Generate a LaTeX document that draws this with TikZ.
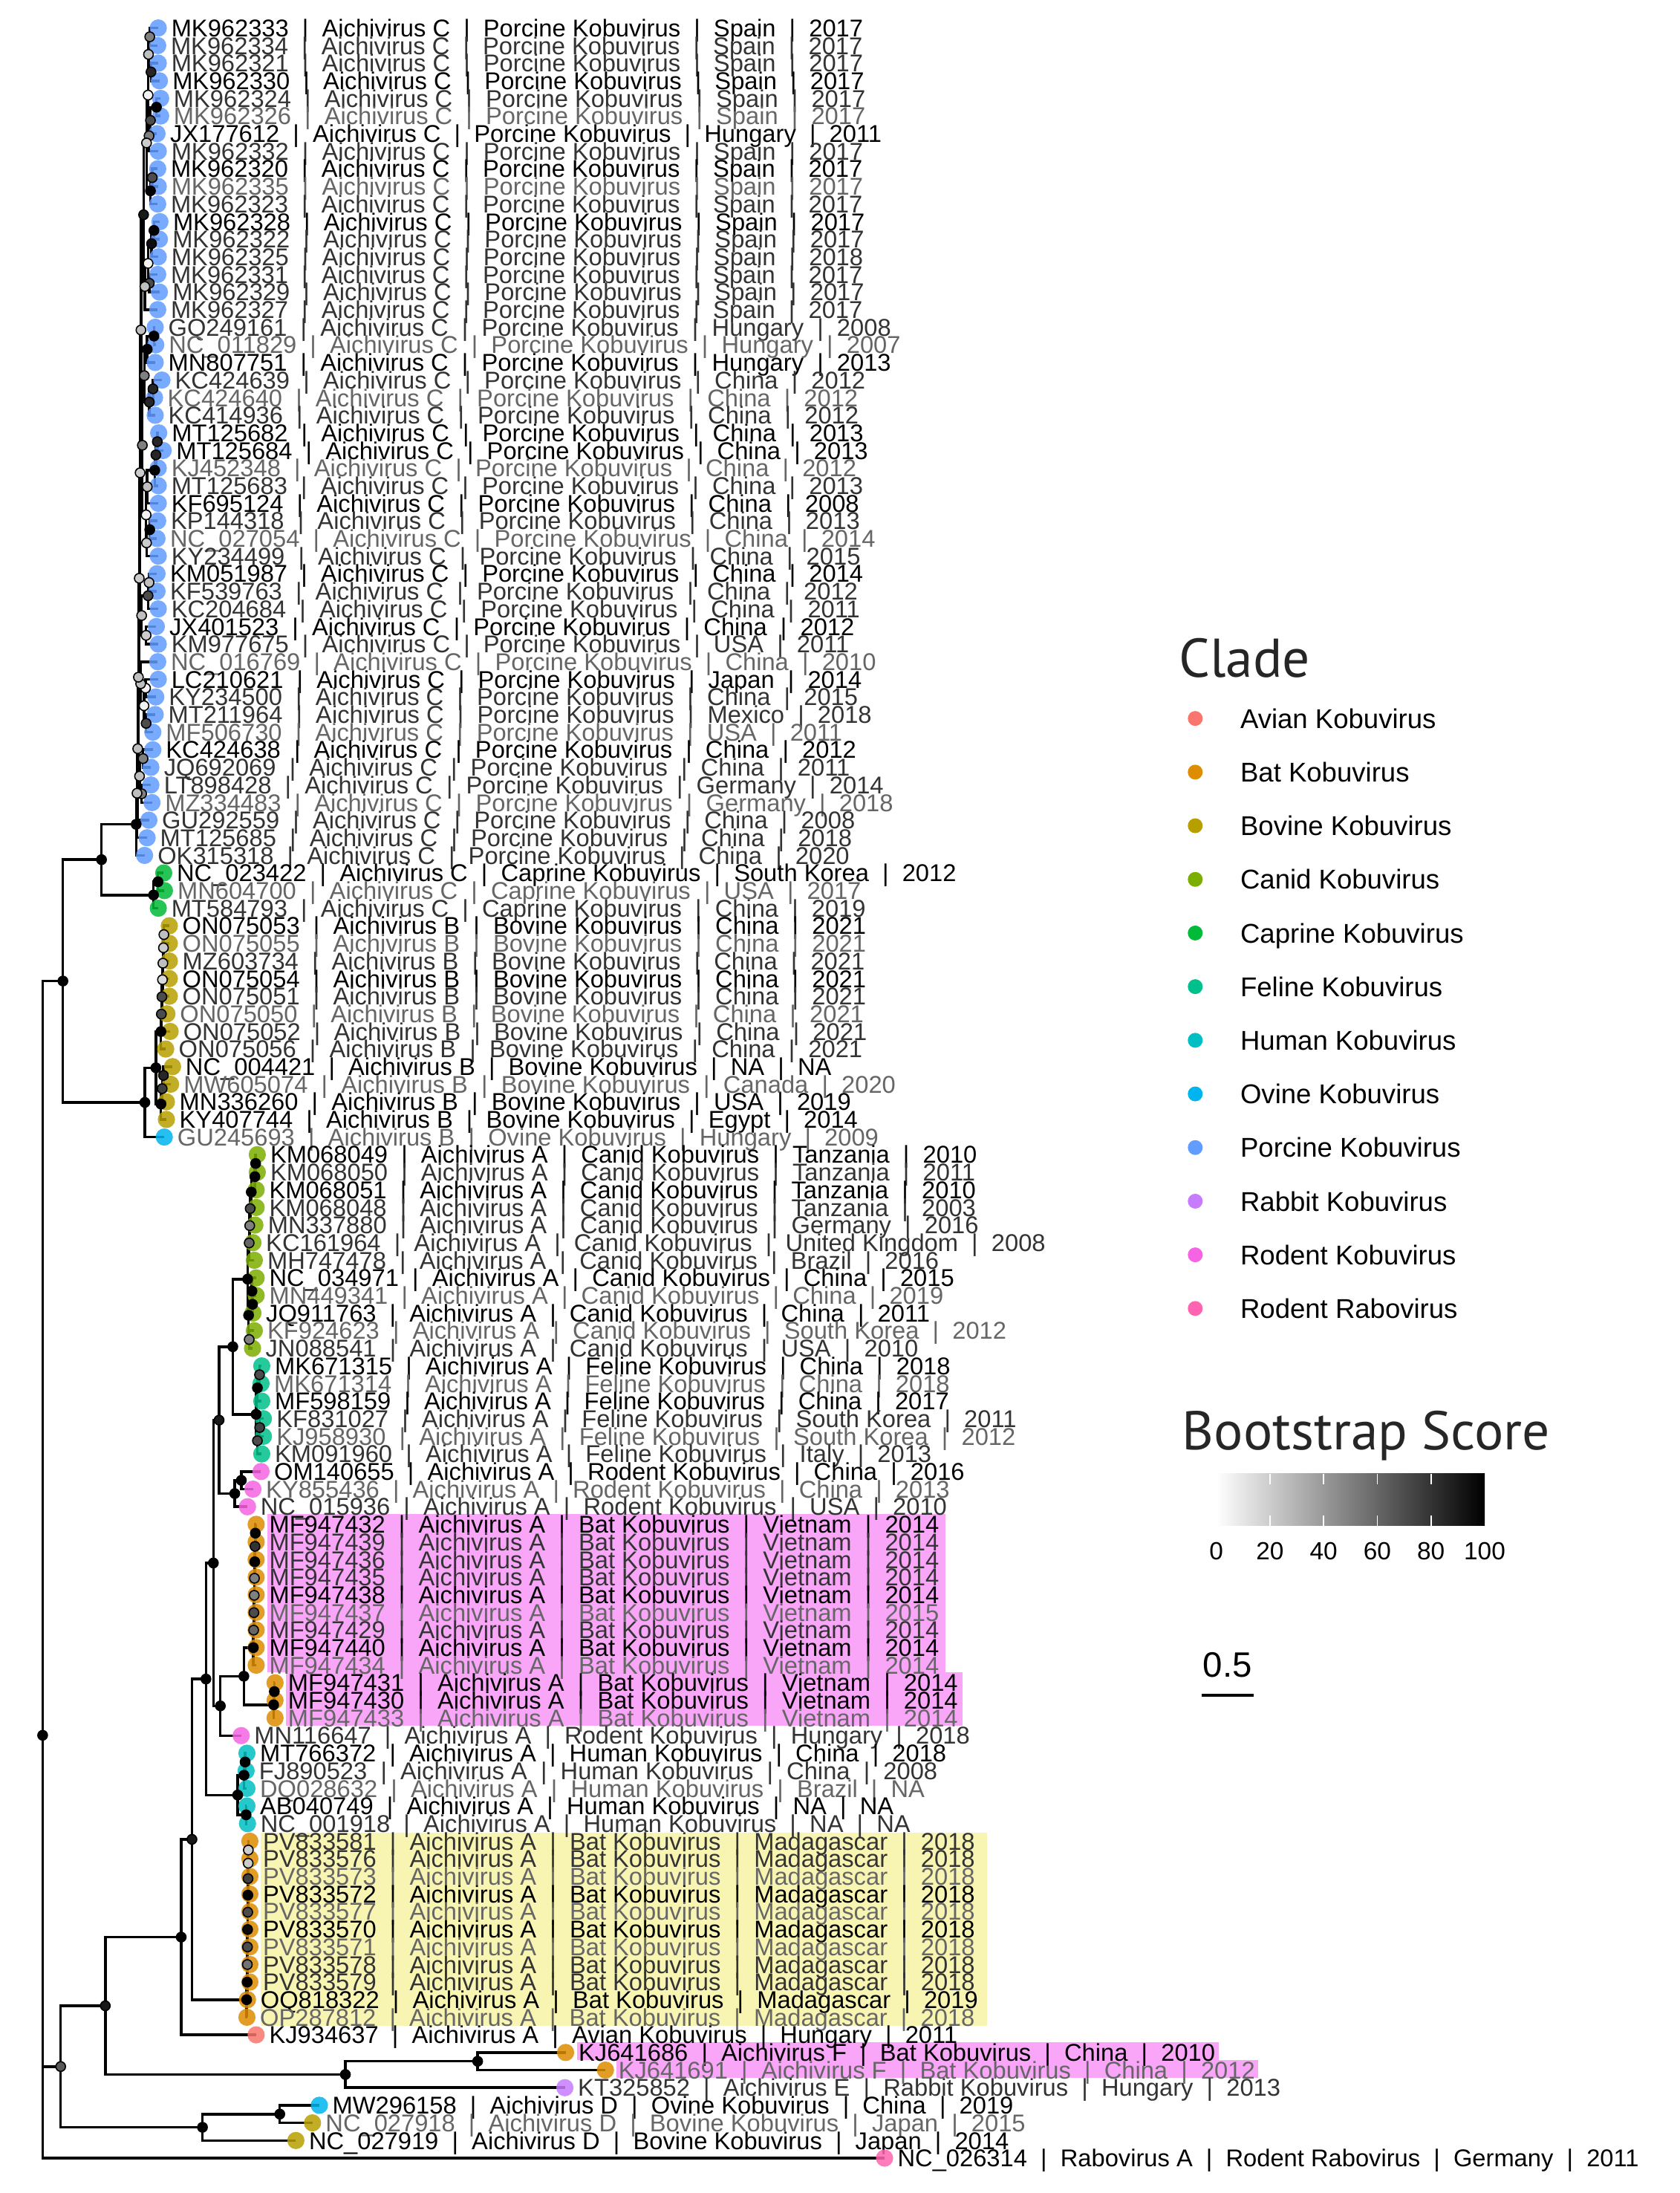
\documentclass[tikz,border=0pt]{standalone}
\usepackage{fontspec}
\setmainfont{Liberation Sans}
\newfontfamily\titlefont{PT Sans}
\usepackage{tikz}
\usetikzlibrary{calc}
\usepackage{xcolor}

\pgfdeclarelayer{hl}
\pgfdeclarelayer{edges}
\pgfsetlayers{hl,edges,main}

\definecolor{cAvia}{HTML}{F8766D}
\definecolor{cBat}{HTML}{DE8C00}
\definecolor{cBovi}{HTML}{B79F00}
\definecolor{cCani}{HTML}{7CAE00}
\definecolor{cCapr}{HTML}{00BA38}
\definecolor{cFeli}{HTML}{00C08B}
\definecolor{cHuma}{HTML}{00BFC4}
\definecolor{cOvin}{HTML}{00B4F0}
\definecolor{cPorc}{HTML}{619CFF}
\definecolor{cRabb}{HTML}{C77CFF}
\definecolor{cRodk}{HTML}{F564E3}
\definecolor{cRabo}{HTML}{FF64B0}
\definecolor{pinkhl}{RGB}{249,166,249}
\definecolor{yellowhl}{RGB}{248,244,178}
\colorlet{lblk}{black}
\colorlet{ldrk}{black!80}
\colorlet{lgry}{black!60}

\newcommand{\lsep}{\hspace{0.556em}|\hspace{0.556em}}
% tip: index, x, dot colour, text colour, id, genus, host, country, year
\newcommand{\leaf}[9]{%
  \node[tipdot, fill=#3] (t#1) at (#2, {20+(#1-1)*12.587}) {};
  \node[tiplab, text=#4] (tl#1) at ({#2+9}, {20+(#1-1)*12.587}) {#5\lsep #6\lsep #7\lsep #8\lsep #9};
}
% inner node: name, x, child, child, bootstrap
\newcommand{\innode}[5]{%
  \coordinate (#1m) at ($(#3)!0.5!(#4)$);
  \node[bsdot, fill=black!#5] (#1) at (#2,0 |- #1m) {};
  \begin{pgfonlayer}{edges}
    \draw[branch] (#1.center) |- (#3.center);
    \draw[branch] (#1.center) |- (#4.center);
  \end{pgfonlayer}
}

\begin{document}
\begin{tikzpicture}[x=0.018826cm, y=-0.018826cm,
    tipdot/.style={circle, inner sep=0pt, minimum size=0.232cm, fill opacity=0.85},
    tiplab/.style={anchor=west, inner sep=0pt, text height=6.66pt, text depth=0pt,
                   font=\fontsize{9.3}{9.3}\selectfont},
    bsdot/.style={circle, draw=black, line width=0.45pt, inner sep=0pt, minimum size=0.13cm},
    branch/.style={line width=1pt, black},
    keydot/.style={circle, inner sep=0pt, minimum size=0.2cm},
    legtext/.style={anchor=west, inner sep=0pt, text height=7.45pt, text depth=0pt,
                    font=\fontsize{10.4}{10.4}\selectfont},
    ticktext/.style={inner sep=0pt, text height=6.8pt, text depth=0pt,
                     font=\fontsize{9.5}{9.5}\selectfont},
    legtitle/.style={anchor=base west, inner sep=0pt, text=black!85,
                     font=\titlefont\fontsize{20.9}{20.9}\selectfont}
]
\useasboundingbox (0,0) rectangle (1201,1568);
\begin{pgfonlayer}{hl}
  \fill[white] (0,0) rectangle (1201,1568);
\end{pgfonlayer}

% Tips
\leaf{1}{113.2}{cPorc}{lblk}{MK962333}{Aichivirus C}{Porcine Kobuvirus}{Spain}{2017}
\leaf{2}{112.8}{cPorc}{ldrk}{MK962334}{Aichivirus C}{Porcine Kobuvirus}{Spain}{2017}
\leaf{3}{113.2}{cPorc}{ldrk}{MK962321}{Aichivirus C}{Porcine Kobuvirus}{Spain}{2017}
\leaf{4}{114.0}{cPorc}{lblk}{MK962330}{Aichivirus C}{Porcine Kobuvirus}{Spain}{2017}
\leaf{5}{114.9}{cPorc}{ldrk}{MK962324}{Aichivirus C}{Porcine Kobuvirus}{Spain}{2017}
\leaf{6}{114.9}{cPorc}{lgry}{MK962326}{Aichivirus C}{Porcine Kobuvirus}{Spain}{2017}
\leaf{7}{112.3}{cPorc}{lblk}{JX177612}{Aichivirus C}{Porcine Kobuvirus}{Hungary}{2011}
\leaf{8}{113.2}{cPorc}{ldrk}{MK962332}{Aichivirus C}{Porcine Kobuvirus}{Spain}{2017}
\leaf{9}{112.8}{cPorc}{lblk}{MK962320}{Aichivirus C}{Porcine Kobuvirus}{Spain}{2017}
\leaf{10}{113.2}{cPorc}{lgry}{MK962335}{Aichivirus C}{Porcine Kobuvirus}{Spain}{2017}
\leaf{11}{112.8}{cPorc}{ldrk}{MK962323}{Aichivirus C}{Porcine Kobuvirus}{Spain}{2017}
\leaf{12}{114.4}{cPorc}{lblk}{MK962328}{Aichivirus C}{Porcine Kobuvirus}{Spain}{2017}
\leaf{13}{114.0}{cPorc}{ldrk}{MK962322}{Aichivirus C}{Porcine Kobuvirus}{Spain}{2017}
\leaf{14}{113.2}{cPorc}{ldrk}{MK962325}{Aichivirus C}{Porcine Kobuvirus}{Spain}{2018}
\leaf{15}{112.8}{cPorc}{ldrk}{MK962331}{Aichivirus C}{Porcine Kobuvirus}{Spain}{2017}
\leaf{16}{114.0}{cPorc}{ldrk}{MK962329}{Aichivirus C}{Porcine Kobuvirus}{Spain}{2017}
\leaf{17}{112.8}{cPorc}{ldrk}{MK962327}{Aichivirus C}{Porcine Kobuvirus}{Spain}{2017}
\leaf{18}{111.0}{cPorc}{ldrk}{GQ249161}{Aichivirus C}{Porcine Kobuvirus}{Hungary}{2008}
\leaf{19}{111.4}{cPorc}{lgry}{NC\_011829}{Aichivirus C}{Porcine Kobuvirus}{Hungary}{2007}
\leaf{20}{111.0}{cPorc}{lblk}{MN807751}{Aichivirus C}{Porcine Kobuvirus}{Hungary}{2013}
\leaf{21}{115.8}{cPorc}{ldrk}{KC424639}{Aichivirus C}{Porcine Kobuvirus}{China}{2012}
\leaf{22}{110.5}{cPorc}{lgry}{KC424640}{Aichivirus C}{Porcine Kobuvirus}{China}{2012}
\leaf{23}{111.0}{cPorc}{ldrk}{KC414936}{Aichivirus C}{Porcine Kobuvirus}{China}{2012}
\leaf{24}{113.5}{cPorc}{lblk}{MT125682}{Aichivirus C}{Porcine Kobuvirus}{China}{2013}
\leaf{25}{116.7}{cPorc}{lblk}{MT125684}{Aichivirus C}{Porcine Kobuvirus}{China}{2013}
\leaf{26}{113.2}{cPorc}{lgry}{KJ452348}{Aichivirus C}{Porcine Kobuvirus}{China}{2012}
\leaf{27}{113.2}{cPorc}{ldrk}{MT125683}{Aichivirus C}{Porcine Kobuvirus}{China}{2013}
\leaf{28}{113.2}{cPorc}{lblk}{KF695124}{Aichivirus C}{Porcine Kobuvirus}{China}{2008}
\leaf{29}{112.8}{cPorc}{ldrk}{KP144318}{Aichivirus C}{Porcine Kobuvirus}{China}{2013}
\leaf{30}{112.3}{cPorc}{lgry}{NC\_027054}{Aichivirus C}{Porcine Kobuvirus}{China}{2014}
\leaf{31}{113.2}{cPorc}{ldrk}{KY234499}{Aichivirus C}{Porcine Kobuvirus}{China}{2015}
\leaf{32}{112.3}{cPorc}{lblk}{KM051987}{Aichivirus C}{Porcine Kobuvirus}{China}{2014}
\leaf{33}{112.3}{cPorc}{ldrk}{KF539763}{Aichivirus C}{Porcine Kobuvirus}{China}{2012}
\leaf{34}{113.2}{cPorc}{ldrk}{KC204684}{Aichivirus C}{Porcine Kobuvirus}{China}{2011}
\leaf{35}{111.8}{cPorc}{lblk}{JX401523}{Aichivirus C}{Porcine Kobuvirus}{China}{2012}
\leaf{36}{113.2}{cPorc}{ldrk}{KM977675}{Aichivirus C}{Porcine Kobuvirus}{USA}{2011}
\leaf{37}{112.8}{cPorc}{lgry}{NC\_016769}{Aichivirus C}{Porcine Kobuvirus}{China}{2010}
\leaf{38}{113.2}{cPorc}{lblk}{LC210621}{Aichivirus C}{Porcine Kobuvirus}{Japan}{2014}
\leaf{39}{111.4}{cPorc}{ldrk}{KY234500}{Aichivirus C}{Porcine Kobuvirus}{China}{2015}
\leaf{40}{111.0}{cPorc}{ldrk}{MT211964}{Aichivirus C}{Porcine Kobuvirus}{Mexico}{2018}
\leaf{41}{109.3}{cPorc}{lgry}{MF506730}{Aichivirus C}{Porcine Kobuvirus}{USA}{2011}
\leaf{42}{109.3}{cPorc}{lblk}{KC424638}{Aichivirus C}{Porcine Kobuvirus}{China}{2012}
\leaf{43}{107.9}{cPorc}{ldrk}{JQ692069}{Aichivirus C}{Porcine Kobuvirus}{China}{2011}
\leaf{44}{107.9}{cPorc}{ldrk}{LT898428}{Aichivirus C}{Porcine Kobuvirus}{Germany}{2014}
\leaf{45}{108.7}{cPorc}{lgry}{MZ334483}{Aichivirus C}{Porcine Kobuvirus}{Germany}{2018}
\leaf{46}{106.5}{cPorc}{ldrk}{GU292559}{Aichivirus C}{Porcine Kobuvirus}{China}{2008}
\leaf{47}{105.2}{cPorc}{ldrk}{MT125685}{Aichivirus C}{Porcine Kobuvirus}{China}{2018}
\leaf{48}{103.4}{cPorc}{ldrk}{OK315318}{Aichivirus C}{Porcine Kobuvirus}{China}{2020}
\leaf{49}{117.1}{cCapr}{lblk}{NC\_023422}{Aichivirus C}{Caprine Kobuvirus}{South Korea}{2012}
\leaf{50}{117.6}{cCapr}{lgry}{MN604700}{Aichivirus C}{Caprine Kobuvirus}{USA}{2017}
\leaf{51}{113.2}{cCapr}{ldrk}{MT584793}{Aichivirus C}{Caprine Kobuvirus}{China}{2019}
\leaf{52}{121.1}{cBovi}{lblk}{ON075053}{Aichivirus B}{Bovine Kobuvirus}{China}{2021}
\leaf{53}{121.1}{cBovi}{lgry}{ON075055}{Aichivirus B}{Bovine Kobuvirus}{China}{2021}
\leaf{54}{121.1}{cBovi}{ldrk}{MZ603734}{Aichivirus B}{Bovine Kobuvirus}{China}{2021}
\leaf{55}{121.1}{cBovi}{lblk}{ON075054}{Aichivirus B}{Bovine Kobuvirus}{China}{2021}
\leaf{56}{121.1}{cBovi}{ldrk}{ON075051}{Aichivirus B}{Bovine Kobuvirus}{China}{2021}
\leaf{57}{119.4}{cBovi}{lgry}{ON075050}{Aichivirus B}{Bovine Kobuvirus}{China}{2021}
\leaf{58}{121.7}{cBovi}{ldrk}{ON075052}{Aichivirus B}{Bovine Kobuvirus}{China}{2021}
\leaf{59}{118.5}{cBovi}{ldrk}{ON075056}{Aichivirus B}{Bovine Kobuvirus}{China}{2021}
\leaf{60}{123.4}{cBovi}{lblk}{NC\_004421}{Aichivirus B}{Bovine Kobuvirus}{NA}{NA}
\leaf{61}{122.0}{cBovi}{lgry}{MW605074}{Aichivirus B}{Bovine Kobuvirus}{Canada}{2020}
\leaf{62}{119.0}{cBovi}{lblk}{MN336260}{Aichivirus B}{Bovine Kobuvirus}{USA}{2019}
\leaf{63}{119.0}{cBovi}{lblk}{KY407744}{Aichivirus B}{Bovine Kobuvirus}{Egypt}{2014}
\leaf{64}{117.5}{cOvin}{lgry}{GU245693}{Aichivirus B}{Ovine Kobuvirus}{Hungary}{2009}
\leaf{65}{184.0}{cCani}{lblk}{KM068049}{Aichivirus A}{Canid Kobuvirus}{Tanzania}{2010}
\leaf{66}{184.0}{cCani}{ldrk}{KM068050}{Aichivirus A}{Canid Kobuvirus}{Tanzania}{2011}
\leaf{67}{183.2}{cCani}{lblk}{KM068051}{Aichivirus A}{Canid Kobuvirus}{Tanzania}{2010}
\leaf{68}{183.2}{cCani}{ldrk}{KM068048}{Aichivirus A}{Canid Kobuvirus}{Tanzania}{2003}
\leaf{69}{182.3}{cCani}{ldrk}{MN337880}{Aichivirus A}{Canid Kobuvirus}{Germany}{2016}
\leaf{70}{180.9}{cCani}{ldrk}{KC161964}{Aichivirus A}{Canid Kobuvirus}{United Kingdom}{2008}
\leaf{71}{181.9}{cCani}{ldrk}{MH747478}{Aichivirus A}{Canid Kobuvirus}{Brazil}{2016}
\leaf{72}{183.2}{cCani}{lblk}{NC\_034971}{Aichivirus A}{Canid Kobuvirus}{China}{2015}
\leaf{73}{183.2}{cCani}{lgry}{MN449341}{Aichivirus A}{Canid Kobuvirus}{China}{2019}
\leaf{74}{180.9}{cCani}{lblk}{JQ911763}{Aichivirus A}{Canid Kobuvirus}{China}{2011}
\leaf{75}{181.9}{cCani}{lgry}{KF924623}{Aichivirus A}{Canid Kobuvirus}{South Korea}{2012}
\leaf{76}{180.6}{cCani}{ldrk}{JN088541}{Aichivirus A}{Canid Kobuvirus}{USA}{2010}
\leaf{77}{187.2}{cFeli}{lblk}{MK671315}{Aichivirus A}{Feline Kobuvirus}{China}{2018}
\leaf{78}{186.7}{cFeli}{lgry}{MK671314}{Aichivirus A}{Feline Kobuvirus}{China}{2018}
\leaf{79}{187.2}{cFeli}{lblk}{MF598159}{Aichivirus A}{Feline Kobuvirus}{China}{2017}
\leaf{80}{188.4}{cFeli}{ldrk}{KF831027}{Aichivirus A}{Feline Kobuvirus}{South Korea}{2011}
\leaf{81}{188.4}{cFeli}{lgry}{KJ958930}{Aichivirus A}{Feline Kobuvirus}{South Korea}{2012}
\leaf{82}{187.2}{cFeli}{ldrk}{KM091960}{Aichivirus A}{Feline Kobuvirus}{Italy}{2013}
\leaf{83}{186.7}{cRodk}{lblk}{OM140655}{Aichivirus A}{Rodent Kobuvirus}{China}{2016}
\leaf{84}{180.9}{cRodk}{lgry}{KY855436}{Aichivirus A}{Rodent Kobuvirus}{China}{2013}
\leaf{85}{177.0}{cRodk}{ldrk}{NC\_015936}{Aichivirus A}{Rodent Kobuvirus}{USA}{2010}
\leaf{86}{183.2}{cBat}{lblk}{MF947432}{Aichivirus A}{Bat Kobuvirus}{Vietnam}{2014}
\leaf{87}{183.2}{cBat}{ldrk}{MF947439}{Aichivirus A}{Bat Kobuvirus}{Vietnam}{2014}
\leaf{88}{183.2}{cBat}{ldrk}{MF947436}{Aichivirus A}{Bat Kobuvirus}{Vietnam}{2014}
\leaf{89}{183.2}{cBat}{ldrk}{MF947435}{Aichivirus A}{Bat Kobuvirus}{Vietnam}{2014}
\leaf{90}{183.2}{cBat}{lblk}{MF947438}{Aichivirus A}{Bat Kobuvirus}{Vietnam}{2014}
\leaf{91}{183.2}{cBat}{lgry}{MF947437}{Aichivirus A}{Bat Kobuvirus}{Vietnam}{2015}
\leaf{92}{183.2}{cBat}{ldrk}{MF947429}{Aichivirus A}{Bat Kobuvirus}{Vietnam}{2014}
\leaf{93}{183.2}{cBat}{lblk}{MF947440}{Aichivirus A}{Bat Kobuvirus}{Vietnam}{2014}
\leaf{94}{183.2}{cBat}{lgry}{MF947434}{Aichivirus A}{Bat Kobuvirus}{Vietnam}{2014}
\leaf{95}{196.7}{cBat}{lblk}{MF947431}{Aichivirus A}{Bat Kobuvirus}{Vietnam}{2014}
\leaf{96}{196.7}{cBat}{lblk}{MF947430}{Aichivirus A}{Bat Kobuvirus}{Vietnam}{2014}
\leaf{97}{196.7}{cBat}{lgry}{MF947433}{Aichivirus A}{Bat Kobuvirus}{Vietnam}{2014}
\leaf{98}{172.5}{cRodk}{ldrk}{MN116647}{Aichivirus A}{Rodent Kobuvirus}{Hungary}{2018}
\leaf{99}{176.6}{cHuma}{lblk}{MT766372}{Aichivirus A}{Human Kobuvirus}{China}{2018}
\leaf{100}{176.0}{cHuma}{ldrk}{FJ890523}{Aichivirus A}{Human Kobuvirus}{China}{2008}
\leaf{101}{176.6}{cHuma}{lgry}{DQ028632}{Aichivirus A}{Human Kobuvirus}{Brazil}{NA}
\leaf{102}{176.6}{cHuma}{lblk}{AB040749}{Aichivirus A}{Human Kobuvirus}{NA}{NA}
\leaf{103}{177.0}{cHuma}{ldrk}{NC\_001918}{Aichivirus A}{Human Kobuvirus}{NA}{NA}
\leaf{104}{178.7}{cBat}{ldrk}{PV833581}{Aichivirus A}{Bat Kobuvirus}{Madagascar}{2018}
\leaf{105}{178.7}{cBat}{ldrk}{PV833576}{Aichivirus A}{Bat Kobuvirus}{Madagascar}{2018}
\leaf{106}{178.7}{cBat}{lgry}{PV833573}{Aichivirus A}{Bat Kobuvirus}{Madagascar}{2018}
\leaf{107}{178.7}{cBat}{lblk}{PV833572}{Aichivirus A}{Bat Kobuvirus}{Madagascar}{2018}
\leaf{108}{178.7}{cBat}{lgry}{PV833577}{Aichivirus A}{Bat Kobuvirus}{Madagascar}{2018}
\leaf{109}{178.7}{cBat}{lblk}{PV833570}{Aichivirus A}{Bat Kobuvirus}{Madagascar}{2018}
\leaf{110}{178.7}{cBat}{lgry}{PV833571}{Aichivirus A}{Bat Kobuvirus}{Madagascar}{2018}
\leaf{111}{178.7}{cBat}{ldrk}{PV833578}{Aichivirus A}{Bat Kobuvirus}{Madagascar}{2018}
\leaf{112}{178.7}{cBat}{ldrk}{PV833579}{Aichivirus A}{Bat Kobuvirus}{Madagascar}{2018}
\leaf{113}{177.0}{cBat}{lblk}{OQ818322}{Aichivirus A}{Bat Kobuvirus}{Madagascar}{2019}
\leaf{114}{176.6}{cBat}{lgry}{OP287812}{Aichivirus A}{Bat Kobuvirus}{Madagascar}{2018}
\leaf{115}{183.2}{cAvia}{lblk}{KJ934637}{Aichivirus A}{Avian Kobuvirus}{Hungary}{2011}
\leaf{116}{404.5}{cBat}{lblk}{KJ641686}{Aichivirus F}{Bat Kobuvirus}{China}{2010}
\leaf{117}{433.0}{cBat}{lgry}{KJ641691}{Aichivirus F}{Bat Kobuvirus}{China}{2012}
\leaf{118}{404.0}{cRabb}{ldrk}{KT325852}{Aichivirus E}{Rabbit Kobuvirus}{Hungary}{2013}
\leaf{119}{228.4}{cOvin}{lblk}{MW296158}{Aichivirus D}{Ovine Kobuvirus}{China}{2019}
\leaf{120}{223.5}{cBovi}{lgry}{NC\_027918}{Aichivirus D}{Bovine Kobuvirus}{Japan}{2015}
\leaf{121}{211.6}{cBovi}{lblk}{NC\_027919}{Aichivirus D}{Bovine Kobuvirus}{Japan}{2014}
\leaf{122}{632.6}{cRabo}{lblk}{NC\_026314}{Rabovirus A}{Rodent Rabovirus}{Germany}{2011}

% Porcine clade
\innode{a1}{107.1}{t1}{t2}{50}
\innode{a2}{108.0}{t3}{t4}{85}
\innode{a12}{106.2}{a1}{a2}{25}
\innode{a3}{111.9}{t5}{t6}{100}
\innode{a4}{107.6}{a3}{t7}{70}
\innode{a5}{106.6}{a4}{t8}{50}
\innode{a6}{105.9}{a12}{a5}{5}
\innode{b1}{108.9}{t9}{t10}{70}
\innode{b2}{107.6}{b1}{t11}{100}
\innode{a7}{104.8}{a6}{b2}{20}
\innode{c1}{110.1}{t12}{t13}{100}
\innode{c2}{108.4}{c1}{t14}{95}
\innode{d1}{106.8}{t15}{t16}{70}
\innode{c3}{105.9}{c2}{d1}{5}
\innode{c4}{103.6}{c3}{t17}{25}
\innode{e1}{102.7}{a7}{c4}{90}
\innode{f1}{110.1}{t18}{t19}{100}
\innode{f2}{105.3}{f1}{t20}{100}
\innode{g1}{109.4}{t21}{t22}{85}
\innode{g2}{106.8}{g1}{t23}{85}
\innode{f3}{103.2}{f2}{g2}{50}
\innode{h1}{112.5}{t24}{t25}{85}
\innode{h2}{111.5}{h1}{t26}{85}
\innode{h3}{110.7}{h2}{t27}{100}
\innode{h4}{105.3}{h3}{t28}{25}
\innode{i1}{107.1}{t29}{t30}{100}
\innode{i2}{104.8}{i1}{t31}{20}
\innode{h5}{104.5}{h4}{i2}{5}
\innode{f4}{101.8}{f3}{h5}{50}
\innode{j1}{106.6}{t32}{t33}{25}
\innode{j2}{105.9}{j1}{t34}{70}
\innode{k1}{104.5}{t35}{t36}{20}
\innode{m1}{101.3}{j2}{k1}{25}
\innode{q2}{104.1}{t38}{t39}{5}
\innode{q1}{104.5}{t40}{t41}{70}
\innode{q3}{103.0}{q2}{q1}{5}
\innode{k2}{100.6}{t37}{q3}{25}
\innode{n2}{102.3}{t42}{t43}{50}
\innode{n1}{101.3}{t44}{t45}{50}
\innode{n3}{99.8}{n2}{n1}{25}
\innode{s1}{100.8}{e1}{f4}{25}
\innode{s2}{100.2}{s1}{m1}{20}
\innode{s3}{99.6}{s2}{k2}{20}
\innode{s4}{99.0}{s3}{n3}{25}
\innode{s5}{98.5}{s4}{t46}{25}
\innode{s6}{98.0}{s5}{t47}{25}
\innode{porc}{97.4}{s6}{t48}{100}

% Caprine and bovine clades
\innode{cap1}{113.0}{t49}{t50}{100}
\innode{cap}{109.8}{cap1}{t51}{100}
\innode{nA1}{72.6}{porc}{cap}{100}
\innode{o1}{117.2}{t52}{t53}{25}
\innode{o2}{116.9}{o1}{t54}{20}
\innode{o3}{116.5}{o2}{t55}{25}
\innode{o4}{116.2}{o3}{t56}{15}
\innode{o5}{115.8}{o4}{t57}{70}
\innode{o6}{115.4}{o5}{t58}{70}
\innode{onc}{115.1}{o6}{t59}{100}
\innode{bv21}{116.9}{t60}{t61}{85}
\innode{bv22}{116.0}{bv21}{t62}{75}
\innode{bv2}{115.1}{bv22}{t63}{100}
\innode{bv1}{111.5}{onc}{bv2}{100}
\innode{bov}{103.6}{bv1}{t64}{100}
\innode{nA}{45.0}{nA1}{bov}{100}

% Aichivirus A
\innode{ca1}{182.8}{t65}{t66}{100}
\innode{ca2}{182.3}{ca1}{t67}{100}
\innode{ca3}{179.7}{ca2}{t68}{100}
\innode{ca4}{178.9}{ca3}{t69}{70}
\innode{ca5}{178.6}{ca4}{t70}{50}
\innode{ca6}{178.2}{ca5}{t71}{60}
\innode{cc1}{180.6}{t73}{t74}{100}
\innode{cc2}{180.2}{t72}{cc1}{100}
\innode{cb1}{178.2}{t75}{t76}{50}
\innode{cc3}{177.8}{cc2}{cb1}{100}
\innode{can}{177.1}{ca6}{cc3}{100}
\innode{fe1}{185.6}{t77}{t78}{70}
\innode{fe2}{184.1}{fe1}{t79}{100}
\innode{fe3}{185.7}{t80}{t81}{75}
\innode{fe4}{184.1}{fe3}{t82}{70}
\innode{fel}{183.2}{fe2}{fe4}{100}
\innode{nO}{166.5}{can}{fel}{100}
\innode{ro1}{172.6}{t83}{t84}{100}
\innode{rod}{167.9}{ro1}{t85}{100}
\innode{nN}{156.7}{nO}{rod}{90}
\innode{v1}{182.6}{t86}{t87}{100}
\innode{v2}{182.4}{v1}{t88}{80}
\innode{v3}{182.2}{v2}{t89}{100}
\innode{v4}{182.0}{v3}{t90}{50}
\innode{v5}{181.8}{v4}{t91}{50}
\innode{v6}{181.6}{v5}{t92}{70}
\innode{v7}{181.4}{v6}{t93}{60}
\innode{vL}{181.2}{v7}{t94}{100}
\innode{mm1}{196.2}{t95}{t96}{100}
\innode{vM}{195.7}{mm1}{t97}{100}
\innode{nK}{174.4}{vL}{vM}{100}
\innode{nJ}{157.6}{nK}{t98}{100}
\innode{nI}{152.6}{nN}{nJ}{100}
\innode{hs3}{175.3}{t99}{t100}{100}
\innode{hs1}{174.5}{hs3}{t101}{100}
\innode{hs2}{176.0}{t102}{t103}{100}
\innode{hum}{170.0}{hs1}{hs2}{100}
\innode{nH}{147.3}{nI}{hum}{100}
\innode{p1}{177.6}{t104}{t105}{20}
\innode{p2}{177.5}{p1}{t106}{20}
\innode{p3}{177.4}{p2}{t107}{75}
\innode{p4}{177.3}{p3}{t108}{100}
\innode{p5}{177.2}{p4}{t109}{70}
\innode{p6}{177.1}{p5}{t110}{95}
\innode{p7}{177.0}{p6}{t111}{70}
\innode{p8}{176.9}{p7}{t112}{55}
\innode{p9}{176.8}{p8}{t113}{100}
\innode{mad}{176.4}{p9}{t114}{100}
\innode{nE}{137.3}{nH}{mad}{90}
\innode{nD}{129.6}{nE}{t115}{100}

% Aichivirus F, E, D and root
\innode{nG}{341.6}{t116}{t117}{100}
\innode{nF}{247.0}{nG}{t118}{100}
\innode{nC}{75.3}{nD}{nF}{90}
\innode{adn}{200.1}{t119}{t120}{100}
\innode{nAD}{144.8}{adn}{t121}{100}
\innode{nB}{43.4}{nC}{nAD}{65}
\coordinate (rootm) at ($0.3333*(nA)+0.3333*(nB)+0.3334*(t122)$);
\node[bsdot, fill=black] (root) at (30.5,0 |- rootm) {};
\begin{pgfonlayer}{edges}
  \draw[branch] (root.center) |- (nA.center);
  \draw[branch] (root.center) |- (nB.center);
  \draw[branch] (root.center) |- (t122.center);
\end{pgfonlayer}

% Highlights
\begin{pgfonlayer}{hl}
  \fill[pinkhl] ($(tl86.west)+(-1,-7.3)$) rectangle ($(tl94.east)+(4,5.3)$);
  \fill[pinkhl] ($(tl95.west)+(-1,-7.3)$) rectangle ($(tl97.east)+(3,5.3)$);
  \fill[pinkhl] ($(tl116.west)+(-1,-7.3)$) rectangle ($(tl116.east)+(2,5.3)$);
  \fill[pinkhl] ($(tl117.west)+(-1,-7.3)$) rectangle ($(tl117.east)+(2,5.3)$);
  \fill[yellowhl] ($(tl104.west)+(-1,-6.2)$) rectangle ($(tl104.east |- tl114.east)+(8,6.2)$);
\end{pgfonlayer}

% Legend
\node[legtitle] (cladetitle) at (842.7, 484) {Clade};
\node[keydot, fill=cAvia] (key1) at (854.8, 513.7) {};
\node[legtext] (keylab1) at (886.7, 513.7) {Avian Kobuvirus};
\node[keydot, fill=cBat] (key2) at (854.8, 552.05) {};
\node[legtext] (keylab2) at (886.7, 552.05) {Bat Kobuvirus};
\node[keydot, fill=cBovi] (key3) at (854.8, 590.4) {};
\node[legtext] (keylab3) at (886.7, 590.4) {Bovine Kobuvirus};
\node[keydot, fill=cCani] (key4) at (854.8, 628.75) {};
\node[legtext] (keylab4) at (886.7, 628.75) {Canid Kobuvirus};
\node[keydot, fill=cCapr] (key5) at (854.8, 667.1) {};
\node[legtext] (keylab5) at (886.7, 667.1) {Caprine Kobuvirus};
\node[keydot, fill=cFeli] (key6) at (854.8, 705.45) {};
\node[legtext] (keylab6) at (886.7, 705.45) {Feline Kobuvirus};
\node[keydot, fill=cHuma] (key7) at (854.8, 743.8) {};
\node[legtext] (keylab7) at (886.7, 743.8) {Human Kobuvirus};
\node[keydot, fill=cOvin] (key8) at (854.8, 782.15) {};
\node[legtext] (keylab8) at (886.7, 782.15) {Ovine Kobuvirus};
\node[keydot, fill=cPorc] (key9) at (854.8, 820.5) {};
\node[legtext] (keylab9) at (886.7, 820.5) {Porcine Kobuvirus};
\node[keydot, fill=cRabb] (key10) at (854.8, 858.85) {};
\node[legtext] (keylab10) at (886.7, 858.85) {Rabbit Kobuvirus};
\node[keydot, fill=cRodk] (key11) at (854.8, 897.2) {};
\node[legtext] (keylab11) at (886.7, 897.2) {Rodent Kobuvirus};
\node[keydot, fill=cRabo] (key12) at (854.8, 935.55) {};
\node[legtext] (keylab12) at (886.7, 935.55) {Rodent Rabovirus};

% Bootstrap colour bar
\node[legtitle] (bstitle) at (845.1, 1036.5) {Bootstrap Score};
\shade[left color=white, right color=black] (869.8,1053.6) rectangle (1061.8,1090.9);
\draw[white, line width=0.5pt] (908.2,1053.6) -- (908.2,1061) (908.2,1083.5) -- (908.2,1090.9)
  (946.6,1053.6) -- (946.6,1061) (946.6,1083.5) -- (946.6,1090.9)
  (985.0,1053.6) -- (985.0,1061) (985.0,1083.5) -- (985.0,1090.9)
  (1023.4,1053.6) -- (1023.4,1061) (1023.4,1083.5) -- (1023.4,1090.9);
\node[ticktext] (tick0) at (869.8, 1109) {0};
\node[ticktext] (tick20) at (908.2, 1109) {20};
\node[ticktext] (tick40) at (946.6, 1109) {40};
\node[ticktext] (tick60) at (985.0, 1109) {60};
\node[ticktext] (tick80) at (1023.4, 1109) {80};
\node[ticktext] (tick100) at (1061.8, 1109) {100};

% Scale bar
\node[inner sep=0pt, text height=9.6pt, text depth=0pt, font=\fontsize{13.5}{13.5}\selectfont] (scalelab) at (877.8, 1190) {0.5};
\coordinate (sbl) at (859.2, 1211.9);
\coordinate (sbr) at (896.4, 1211.9);
\draw[line width=1.1pt] (sbl) -- (sbr);

\end{tikzpicture}
\end{document}
